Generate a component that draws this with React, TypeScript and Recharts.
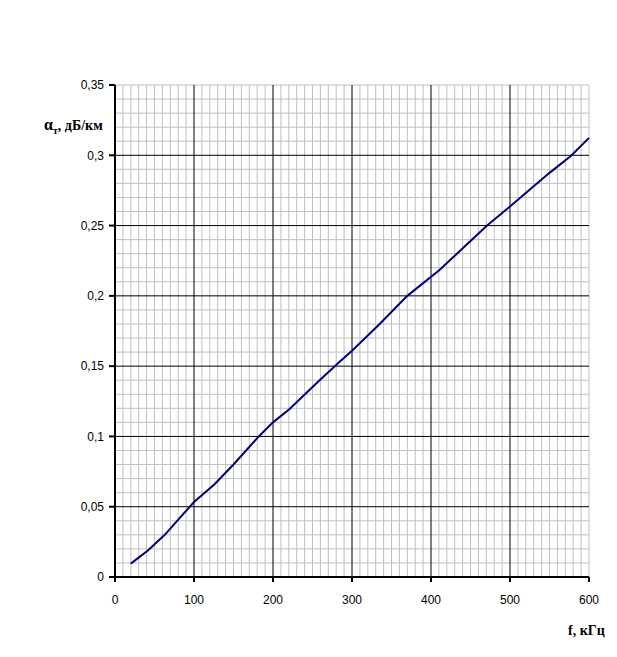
import { CartesianGrid, Line, LineChart, XAxis, YAxis } from "recharts";

// частота, кГц
const freq = [20, 42, 63, 84, 100, 126, 150, 182, 200, 221, 259, 284, 300, 335, 370, 410, 450, 471, 500, 550, 577, 600];
// затухание, дБ/км
const alpha = [0.0095, 0.019, 0.03, 0.0433, 0.0533, 0.066, 0.08, 0.1, 0.11, 0.1195, 0.14, 0.153, 0.161, 0.18, 0.2, 0.218, 0.239, 0.25, 0.2636, 0.2875, 0.2995, 0.3124];

const xTicks = [0, 100, 200, 300, 400, 500, 600];
const yTicks = [0, 0.05, 0.1, 0.15, 0.2, 0.25, 0.3, 0.35];

const xMajor = [100, 200, 300, 400, 500];
const yMajor = [0.05, 0.1, 0.15, 0.2, 0.25, 0.3];

const xMinor = [
  10, 20, 30, 40, 50, 60, 70, 80, 90, 110, 120, 130, 140, 150, 160, 170, 180, 190,
  210, 220, 230, 240, 250, 260, 270, 280, 290, 310, 320, 330, 340, 350, 360, 370, 380, 390,
  410, 420, 430, 440, 450, 460, 470, 480, 490, 510, 520, 530, 540, 550, 560, 570, 580, 590, 600,
];
const yMinor = [
  0.01, 0.02, 0.03, 0.04, 0.06, 0.07, 0.08, 0.09, 0.11, 0.12, 0.13, 0.14, 0.16, 0.17, 0.18, 0.19,
  0.21, 0.22, 0.23, 0.24, 0.26, 0.27, 0.28, 0.29, 0.31, 0.32, 0.33, 0.34, 0.35,
];

const xDomain: [number, number] = [0, 600];
const yDomain: [number, number] = [0, 0.35];

const data = freq.map((f, i) => ({ f, a: alpha[i] }));

const tickFont = { fontFamily: "Liberation Sans", fontSize: 12, fill: "#000" };
const titleFont: React.CSSProperties = {
  position: "absolute",
  fontFamily: "Liberation Serif",
  fontWeight: "bold",
  fontSize: 14,
  color: "#000",
  whiteSpace: "nowrap",
};

// map a value through the axis scale (recharts may hand over a function or a wrapper object)
function toPixel(axis: any, v: number, fallback: () => number) {
  const s = axis && axis.scale;
  if (typeof s === "function") return s(v);
  if (s && typeof s.map === "function") return s.map(v);
  return fallback();
}

const xGen = (vals: number[]) => (p: any) =>
  vals.map((v) =>
    toPixel(p.xAxis, v, () => p.offset.left + ((v - xDomain[0]) / (xDomain[1] - xDomain[0])) * p.offset.width)
  );
const yGen = (vals: number[]) => (p: any) =>
  vals.map((v) =>
    toPixel(p.yAxis, v, () => p.offset.top + p.offset.height - ((v - yDomain[0]) / (yDomain[1] - yDomain[0])) * p.offset.height)
  );

export default function App() {
  return (
    <div style={{ position: "absolute", left: 0, top: 0, width: 617, height: 657, background: "#fff" }}>
      <LineChart
        width={617}
        height={657}
        data={data}
        margin={{ top: 85, right: 28, left: 55, bottom: 50 }}
      >
        <CartesianGrid
          stroke="#c0c0c0"
          strokeWidth={1}
          verticalCoordinatesGenerator={xGen(xMinor)}
          horizontalCoordinatesGenerator={yGen(yMinor)}
        />
        <CartesianGrid
          stroke="#000"
          strokeWidth={1}
          verticalCoordinatesGenerator={xGen(xMajor)}
          horizontalCoordinatesGenerator={yGen(yMajor)}
        />
        <XAxis
          dataKey="f"
          type="number"
          domain={xDomain}
          ticks={xTicks}
          height={30}
          axisLine={{ stroke: "#000", strokeWidth: 2 }}
          tickLine={{ stroke: "#000", strokeWidth: 2 }}
          tickSize={5}
          tickMargin={13}
          tick={tickFont}
        />
        <YAxis
          type="number"
          domain={yDomain}
          ticks={yTicks}
          width={60}
          axisLine={{ stroke: "#000", strokeWidth: 2 }}
          tickLine={{ stroke: "#000", strokeWidth: 2 }}
          tickSize={6}
          tickMargin={5}
          tick={tickFont}
          tickFormatter={(v: number) => String(v).replace(".", ",")}
        />
        <Line
          type="linear"
          dataKey="a"
          stroke="#000080"
          strokeWidth={2}
          dot={false}
          isAnimationActive={false}
        />
      </LineChart>
      <div style={{ ...titleFont, left: 44, top: 116 }}>
        <span style={{ fontSize: 16 }}>α</span>
        <sub style={{ fontSize: 10 }}>т</sub>, дБ/км
      </div>
      <div style={{ ...titleFont, left: 568, top: 623 }}>f, кГц</div>
    </div>
  );
}
